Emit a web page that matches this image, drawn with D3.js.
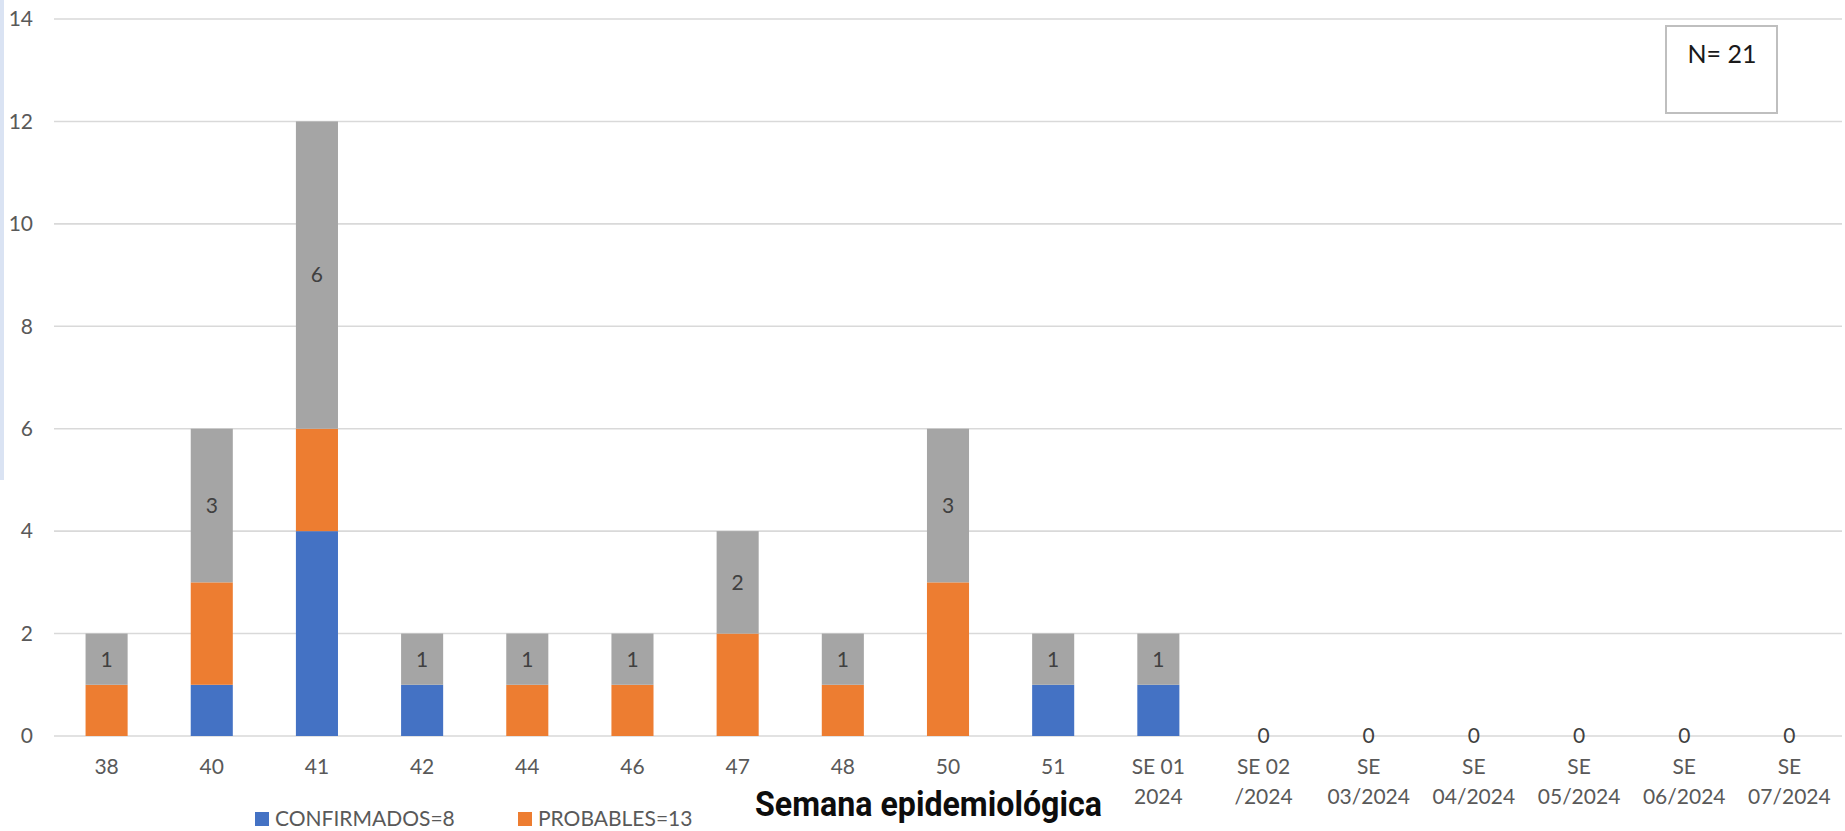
<!DOCTYPE html>
<html>
<head>
<meta charset="utf-8">
<script src="https://cdn.jsdelivr.net/npm/d3@7"></script>
<style>
  html, body { margin: 0; padding: 0; background: #fff; }
  svg { display: block; font-family: Lato, 'Open Sans', sans-serif; }
</style>
</head>
<body>
<div id="chart"></div>
<script>
const weeks = ['38', '40', '41', '42', '44', '46', '47', '48', '50', '51',
  'SE 01|2024', 'SE 02|/2024', 'SE|03/2024', 'SE|04/2024', 'SE|05/2024', 'SE|06/2024', 'SE|07/2024']
const confirmados = [0, 1, 4, 1, 0, 0, 0, 0, 0, 1, 1, 0, 0, 0, 0, 0, 0]
const probables = [1, 2, 2, 0, 1, 1, 2, 1, 3, 0, 0, 0, 0, 0, 0, 0, 0]
const totales = [1, 3, 6, 1, 1, 1, 2, 1, 3, 1, 1, 0, 0, 0, 0, 0, 0]
const yTicks = [0, 2, 4, 6, 8, 10, 12, 14]
const legendItems = [
  { key: 'confirmados', label: 'CONFIRMADOS=8' },
  { key: 'probables', label: 'PROBABLES=13' }
]
const totalN = 'N= 21'
const xTitle = 'Semana epidemiológica'

const width = 1845
const height = 831
const plot = { left: 54, right: 1842, top: 19, bottom: 736 }

const colors = {
  confirmados: '#4472c4',
  probables: '#ed7d31',
  totales: '#a5a5a5'
}

const rows = weeks.map((w, i) => ({
  week: w,
  confirmados: confirmados[i],
  probables: probables[i],
  totales: totales[i]
}))

const svg = d3.select('#chart').append('svg')
  .attr('width', width)
  .attr('height', height)

// light blue strip on the left edge
svg.append('rect')
  .attr('x', 0).attr('y', 0)
  .attr('width', 4).attr('height', 480)
  .attr('fill', '#dae3f3')

const x = d3.scaleBand()
  .domain(weeks)
  .range([plot.left, plot.right])
  .paddingInner(0.6)
  .paddingOuter(0.3)

const y = d3.scaleLinear()
  .domain([0, 14])
  .range([plot.bottom, plot.top])

// gridlines
svg.append('g')
  .selectAll('line')
  .data(yTicks)
  .join('line')
  .attr('x1', plot.left)
  .attr('x2', plot.right)
  .attr('y1', d => y(d))
  .attr('y2', d => y(d))
  .attr('stroke', '#d9d9d9')
  .attr('stroke-width', 1.6)

// y axis labels
svg.append('g')
  .selectAll('text')
  .data(yTicks)
  .join('text')
  .attr('x', 33)
  .attr('y', d => y(d))
  .attr('dy', '0.35em')
  .attr('text-anchor', 'end')
  .attr('fill', '#595959')
  .attr('font-size', 21)
  .text(d => d)

const stack = d3.stack().keys(['confirmados', 'probables', 'totales'])
const series = stack(rows)

svg.append('g')
  .selectAll('g')
  .data(series)
  .join('g')
  .attr('fill', d => colors[d.key])
  .selectAll('rect')
  .data(d => d)
  .join('rect')
  .attr('x', d => x(d.data.week))
  .attr('width', x.bandwidth())
  .attr('y', d => y(d[1]))
  .attr('height', d => y(d[0]) - y(d[1]))

// labels on the total segment
const totalSeries = series.find(s => s.key === 'totales')
svg.append('g')
  .selectAll('text')
  .data(totalSeries)
  .join('text')
  .attr('x', d => x(d.data.week) + x.bandwidth() / 2)
  .attr('y', d => y((d[0] + d[1]) / 2))
  .attr('dy', '0.35em')
  .attr('text-anchor', 'middle')
  .attr('fill', '#404040')
  .attr('font-size', 21)
  .text(d => d.data.totales)

// x axis labels (one or two lines)
const xLabels = svg.append('g')
  .selectAll('text')
  .data(weeks)
  .join('text')
  .attr('x', d => x(d) + x.bandwidth() / 2)
  .attr('y', 774)
  .attr('text-anchor', 'middle')
  .attr('fill', '#595959')
  .attr('font-size', 21)

xLabels.selectAll('tspan')
  .data(d => d.split('|'))
  .join('tspan')
  .attr('x', function () { return d3.select(this.parentNode).attr('x') })
  .attr('dy', (d, i) => (i === 0 ? 0 : 30))
  .text(d => d)

// axis title, squeezed horizontally like the condensed original
const title = svg.append('text')
  .attr('x', 0)
  .attr('y', 0)
  .attr('font-family', "'Liberation Sans Narrow', 'Roboto', sans-serif")
  .attr('font-weight', 'bold')
  .attr('font-size', 36)
  .attr('fill', '#0d0d0d')
  .text(xTitle)
const titleLen = title.node().getComputedTextLength()
title.attr('transform', `translate(755,816) scale(${347 / titleLen},1)`)

// legend
const legendX = [255, 518]
const legend = svg.append('g')
  .selectAll('g')
  .data(legendItems)
  .join('g')
  .attr('transform', (d, i) => `translate(${legendX[i]},812)`)

legend.append('rect')
  .attr('width', 14)
  .attr('height', 14)
  .attr('fill', d => colors[d.key])

legend.append('text')
  .attr('x', 20)
  .attr('y', 7)
  .attr('dy', '0.35em')
  .attr('fill', '#595959')
  .attr('font-size', 21)
  .text(d => d.label)

// N box
svg.append('rect')
  .attr('x', 1666)
  .attr('y', 26)
  .attr('width', 111)
  .attr('height', 87)
  .attr('fill', '#fff')
  .attr('stroke', '#bfbfbf')
  .attr('stroke-width', 2)

svg.append('text')
  .attr('x', 1722)
  .attr('y', 63)
  .attr('text-anchor', 'middle')
  .attr('fill', '#1a1a1a')
  .attr('font-size', 25)
  .text(totalN)
</script>
</body>
</html>
